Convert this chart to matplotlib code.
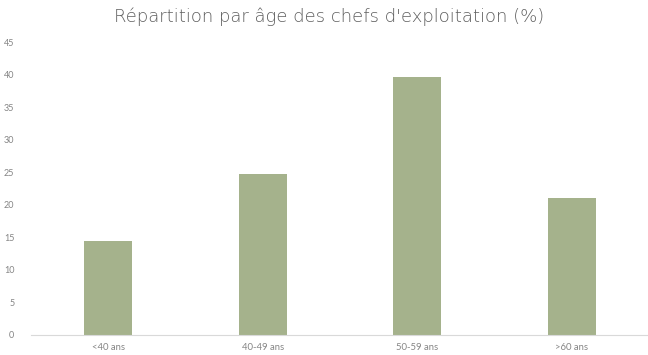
import matplotlib
matplotlib.use("Agg")
import matplotlib.pyplot as plt

categories = ["<40 ans", "40-49 ans", "50-59 ans", ">60 ans"]
values = [14.5, 24.8, 39.6, 21.0]
yticks = [0, 5, 10, 15, 20, 25, 30, 35, 40, 45]

W, H = 648, 355
fig = plt.figure(figsize=(W / 100, H / 100), dpi=100)
ax = fig.add_axes([31 / W, (H - 335) / H, 618 / W, 293 / H])

bar_color = "#a5b28c"
text_color = "#858585"

x = range(len(categories))
ax.bar(x, values, width=0.31, color=bar_color)

ax.set_xlim(-0.5, len(categories) - 0.5)
ax.set_ylim(0, 45)
ax.set_yticks(yticks)
ax.set_yticklabels([str(v) for v in yticks], fontsize=6.5, color=text_color, family="Lato")
ax.set_xticks(list(x))
ax.set_xticklabels(categories, fontsize=6.8, color=text_color, family="Lato")
ax.tick_params(axis="both", length=0, pad=6)
ax.tick_params(axis="y", pad=12)

for side in ["top", "right", "left"]:
    ax.spines[side].set_visible(False)
ax.spines["bottom"].set_color("#d9d9d9")
ax.spines["bottom"].set_linewidth(0.8)

fig.text(329 / W, 1 - 17 / H, "Répartition par âge des chefs d'exploitation (%)",
         ha="center", va="center", fontsize=13, color="#5e5e5e",
         family="DejaVu Sans", fontweight="light")

fig.savefig("out.png", dpi=100, facecolor="white")
